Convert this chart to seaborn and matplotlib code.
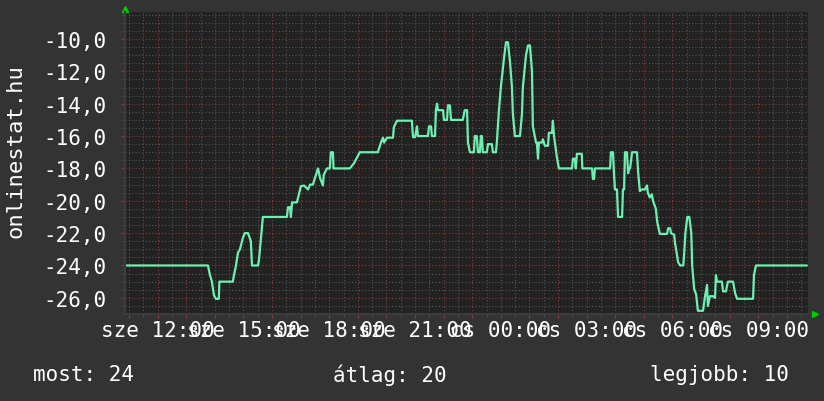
import matplotlib
matplotlib.use("Agg")
import matplotlib.pyplot as plt
import seaborn as sns
from matplotlib.ticker import MultipleLocator, FuncFormatter

# hours counted from sze 00:00
hours = [10.86, 13.76, 13.83, 13.90, 13.97, 14.04, 14.14, 14.16, 14.63, 14.67,
         14.74, 14.81, 14.88, 14.98, 15.05, 15.16, 15.26, 15.30, 15.51, 15.54,
         15.61, 15.68, 16.52, 16.56, 16.63, 16.66, 16.70, 16.87, 17.01, 17.12,
         17.26, 17.33, 17.43, 17.50, 17.61, 17.68, 17.78, 17.81, 17.92, 18.02,
         18.06, 18.13, 18.15, 18.72, 18.86, 19.07, 19.70, 19.81, 19.88, 19.92,
         20.02, 20.23, 20.26, 20.37, 20.89, 20.93, 21.00, 21.07, 21.10, 21.45,
         21.49, 21.56, 21.59, 21.70, 21.73, 21.77, 21.80, 21.98, 22.01, 22.12,
         22.15, 22.22, 22.26, 22.67, 22.74, 22.82, 22.85, 22.92, 23.06, 23.09,
         23.16, 23.20, 23.27, 23.30, 23.34, 23.37, 23.51, 23.55, 23.69, 23.72,
         23.83, 23.86, 23.93, 24.00, 24.11, 24.18, 24.25, 24.32, 24.39, 24.42,
         24.49, 24.67, 24.74, 24.77, 24.88, 24.95, 25.02, 25.09, 25.12, 25.23,
         25.26, 25.30, 25.33, 25.44, 25.47, 25.54, 25.65, 25.68, 25.79, 25.82,
         25.86, 25.96, 26.03, 26.49, 26.52, 26.59, 26.62, 26.66, 26.83, 26.85,
         27.19, 27.22, 27.26, 27.29, 27.82, 27.85, 27.92, 27.96, 27.99, 28.06,
         28.10, 28.24, 28.27, 28.31, 28.34, 28.41, 28.45, 28.48, 28.52, 28.59,
         28.76, 28.80, 28.86, 28.93, 29.04, 29.11, 29.14, 29.21, 29.28, 29.32,
         29.42, 29.46, 29.49, 29.56, 29.81, 29.85, 29.92, 29.95, 30.06, 30.09,
         30.20, 30.27, 30.38, 30.41, 30.45, 30.52, 30.59, 30.66, 30.69, 30.76,
         30.83, 30.89, 31.07, 31.14, 31.21, 31.24, 31.31, 31.42, 31.49, 31.52,
         31.56, 31.66, 31.73, 31.77, 31.87, 31.94, 32.12, 32.19, 32.26, 32.82,
         32.85, 32.92, 34.70]

values = [-24, -24, -24.6, -25, -25.85, -26.06, -26.06, -25, -25, -24.6,
          -24, -23.2, -23, -22.3, -22, -22, -22.5, -24, -24, -23.7,
          -22.4, -21, -21, -20.4, -20.4, -21, -20.1, -20.1, -19.1, -19.06,
          -19.3, -19, -19, -18.6, -18, -18.6, -19.06, -18.4, -18, -18,
          -17, -17, -18, -18, -17.7, -17, -17, -16.4, -16.1, -16.4,
          -16.1, -16.1, -15.45, -15.05, -15.05, -16.07, -16.07, -15.4, -16, -16,
          -15.4, -15.4, -16, -16, -14.4, -14, -14.4, -14.4, -15, -15,
          -14.1, -14.1, -15, -15, -14.4, -14.4, -16.4, -17, -17, -16,
          -16, -17, -17, -16, -16, -17, -17, -16.5, -16.5, -17,
          -17, -16.4, -14.5, -13, -11.2, -10.2, -10.2, -11.4, -13, -14.6,
          -16, -16, -14.6, -13, -11, -10.4, -10.4, -12, -15.4, -16.4,
          -16.4, -17.4, -16.4, -16.4, -16.2, -16.6, -16.6, -15.8, -15.8, -15.05,
          -16, -17.3, -18, -18, -17.4, -17.4, -18, -17.1, -17.1, -18,
          -18, -18.65, -18.65, -18, -18, -17, -17, -18.4, -19.3, -19.3,
          -21, -21, -19.3, -19.3, -17, -17, -18.3, -18, -18, -17,
          -17, -18.2, -19.4, -19.3, -19.3, -19.05, -19.5, -19.8, -19.6, -20,
          -20.5, -21.2, -21.5, -22.05, -22.05, -21.7, -21.7, -22, -22.1, -22.6,
          -23.8, -24, -24, -23.3, -22.05, -21, -21, -22, -24, -25.45,
          -25.8, -26.8, -26.8, -25.9, -25.2, -26.5, -25.9, -25.9, -26, -24.6,
          -25, -25, -25, -25.6, -25.6, -25, -25, -25.7, -26.06, -26.06,
          -24.6, -24, -24]

tick_hours = [12, 15, 18, 21, 24, 27, 30, 33]
tick_labels = ["sze 12:00", "sze 15:00", "sze 18:00", "sze 21:00",
               "cs 00:00", "cs 03:00", "cs 06:00", "cs 09:00"]

stat_names = ["most", "átlag", "legjobb"]
stat_values = [24, 20, 10]

sns.set_style("dark")
plt.rcParams["font.family"] = ["DejaVu Sans Mono"]

fig = plt.figure(figsize=(8.24, 4.02), dpi=100, facecolor="#333333")
ax = fig.add_axes([125 / 824, 1 - 315 / 402, 683 / 824, 302 / 402])
ax.set_facecolor("#222222")

sns.lineplot(x=hours, y=values, ax=ax, color="#6ef0b2", linewidth=1.6,
             estimator=None, sort=False)

ax.set_xlim(10.86, 34.74)
ax.set_ylim(-27.0, -8.33)

lbl = dict(zip(tick_hours, tick_labels))
ax.xaxis.set_major_locator(MultipleLocator(1))
ax.xaxis.set_minor_locator(MultipleLocator(0.5))
ax.xaxis.set_major_formatter(FuncFormatter(lambda v, p: lbl.get(int(round(v)), "") if abs(v - round(v)) < 1e-6 else ""))
ax.yaxis.set_major_locator(MultipleLocator(2))
ax.yaxis.set_minor_locator(MultipleLocator(0.5))
ax.yaxis.set_major_formatter(FuncFormatter(lambda v, p: f"{v:.1f}".replace(".", ",")))

ax.grid(True, which="minor", color="#555555", linestyle=(0, (1, 2)), linewidth=0.8)
ax.grid(True, which="major", color="#8a3a3a", linestyle=(0, (1, 2)), linewidth=0.8)

ax.tick_params(axis="both", which="major", colors="#8a3a3a", length=3,
               direction="out", labelcolor="white", labelsize=15)
ax.tick_params(axis="both", which="minor", colors="#555555", length=2,
               direction="out")
ax.tick_params(axis="x", which="major", pad=1, bottom=True)
ax.tick_params(axis="y", which="major", pad=10, left=True)
ax.tick_params(axis="x", which="minor", bottom=True)
ax.tick_params(axis="y", which="minor", left=True)

for s in ["top", "right"]:
    ax.spines[s].set_visible(False)
for s in ["left", "bottom"]:
    ax.spines[s].set_color("#3c3c3c")
    ax.spines[s].set_linewidth(1.5)

# little green arrows at the axis ends
ax.plot([0], [1 + 3 / 302], marker="^", color="#00cc00", markersize=5,
        transform=ax.transAxes, clip_on=False)
ax.plot([1 + 7 / 683], [0], marker=">", color="#00cc00", markersize=5,
        transform=ax.transAxes, clip_on=False)

ax.set_xlabel("")
ax.set_ylabel("onlinestat.hu", fontsize=16, color="white")
ax.yaxis.set_label_coords(-0.146, 0.543)

stat_x = [33, 333, 650]
for name, val, x in zip(stat_names, stat_values, stat_x):
    fig.text(x / 824, 1 - 375 / 402, f"{name}: {val}", fontsize=15,
             color="white", va="center", ha="left")

fig.savefig("out.png", dpi=100, facecolor=fig.get_facecolor())
